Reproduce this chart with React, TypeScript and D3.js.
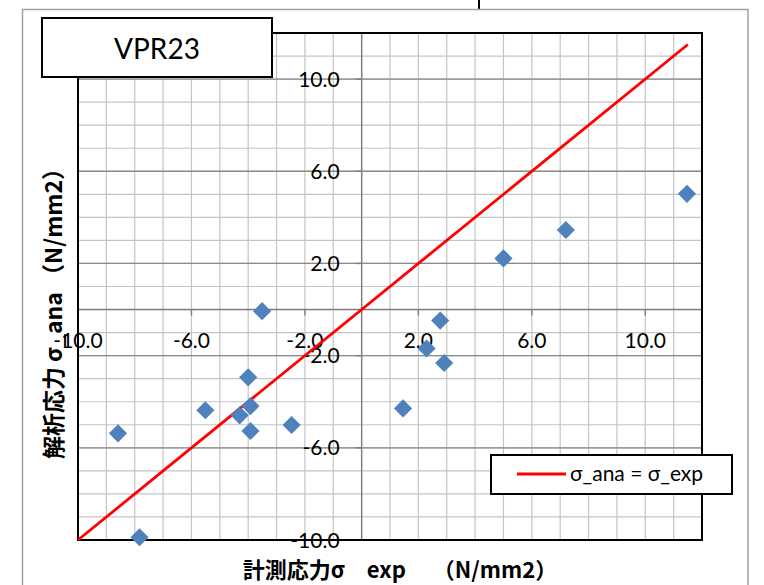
import React from "react";
import * as d3 from "d3";

const title = "VPR23";
const xTitle = "計測応力σ　exp　 （N/mm2）";
const yTitle = "解析応力 σ_ana （N/mm2）";
const legendLabel = "σ_ana = σ_exp";

const expValues = [-8.59, -7.83, -5.51, -4.3, -4.0, -3.92, -3.92, -3.51, -2.47, 1.46, 2.29, 2.77, 2.91, 5.0, 7.2, 11.47];
const anaValues = [-5.37, -9.88, -4.37, -4.59, -2.94, -4.19, -5.27, -0.07, -5.01, -4.29, -1.69, -0.48, -2.32, 2.22, 3.45, 5.02];
const refLine = [-10, 11.5];
const majorTicks = [-10, -6, -2, 2, 6, 10];
const minorTicks = d3.range(-10, 13, 1);
const domain = [-10, 12];

export default function App() {
  const W = 764, H = 585;
  const x = d3.scaleLinear().domain(domain).range([78, 702]);
  const y = d3.scaleLinear().domain(domain).range([540, 33]);
  const diamond = d3.symbol(d3.symbolSquare, 165)();
  const line = d3.line<number>().x((d) => x(d)).y((d) => y(d));
  const latin = "Lato, 'Open Sans', sans-serif";
  const cjk = "'Noto Sans CJK JP', sans-serif";

  return (
    <svg width={W} height={H} style={{ position: "absolute", left: 0, top: 0, background: "#fff" }}>
      <rect x={0} y={0} width={W} height={H} fill="#fff" />
      {/* stray connector at top */}
      <line x1={479} y1={0} x2={479} y2={9} stroke="#000" strokeWidth={2} />
      {/* outer chart border */}
      <rect x={22.5} y={9.5} width={725.5} height={600} fill="#fff" stroke="#A0A0A0" strokeWidth={1.5} />

      {/* minor gridlines */}
      {minorTicks.map((t) => (
        <line key={"vx" + t} x1={x(t)} x2={x(t)} y1={y(domain[0])} y2={y(domain[1])} stroke="#C4C4C4" strokeWidth={1.2} />
      ))}
      {minorTicks.map((t) => (
        <line key={"hy" + t} x1={x(domain[0])} x2={x(domain[1])} y1={y(t)} y2={y(t)} stroke="#C4C4C4" strokeWidth={1.2} />
      ))}
      {/* major horizontal gridlines */}
      {majorTicks.map((t) => (
        <line key={"mh" + t} x1={x(domain[0])} x2={x(domain[1])} y1={y(t)} y2={y(t)} stroke="#8A8A8A" strokeWidth={1.3} />
      ))}

      {/* axes through zero */}
      <line x1={x(0)} x2={x(0)} y1={y(domain[0])} y2={y(domain[1])} stroke="#7F7F7F" strokeWidth={1.4} />
      <line x1={x(domain[0])} x2={x(domain[1])} y1={y(0)} y2={y(0)} stroke="#7F7F7F" strokeWidth={1.4} />
      {majorTicks.map((t) => (
        <line key={"xt" + t} x1={x(t)} x2={x(t)} y1={y(0)} y2={y(0) + 6} stroke="#7F7F7F" strokeWidth={1.4} />
      ))}
      {majorTicks.map((t) => (
        <line key={"yt" + t} x1={x(0) - 6} x2={x(0)} y1={y(t)} y2={y(t)} stroke="#7F7F7F" strokeWidth={1.4} />
      ))}

      {/* plot area border */}
      <rect x={x(domain[0])} y={y(domain[1])} width={x(domain[1]) - x(domain[0])} height={y(domain[0]) - y(domain[1])} fill="none" stroke="#000" strokeWidth={2} />

      {/* tick labels */}
      {majorTicks.map((t) => (
        <text key={"xl" + t} x={x(t)} y={y(0) + 38} textAnchor="middle" fontFamily={latin} fontSize={21} fill="#000">
          {t.toFixed(1)}
        </text>
      ))}
      {majorTicks.map((t) => (
        <text key={"yl" + t} x={x(0) - 22} y={y(t)} dy="0.36em" textAnchor="end" fontFamily={latin} fontSize={21} fill="#000">
          {t.toFixed(1)}
        </text>
      ))}

      {/* reference line */}
      <path d={line(refLine) || ""} stroke="#FF0000" strokeWidth={2.8} fill="none" />

      {/* points */}
      {expValues.map((v, i) => (
        <path key={"p" + i} d={diamond || ""} transform={`translate(${x(v)},${y(anaValues[i])}) rotate(45)`} fill="#4F81BD" />
      ))}

      {/* title box */}
      <rect x={42} y={18} width={230} height={59} fill="#fff" stroke="#000" strokeWidth={2} />
      <text x={157} y={59} textAnchor="middle" fontFamily={latin} fontSize={28} fill="#000">{title}</text>

      {/* legend */}
      <rect x={491} y={455} width={241} height={39} fill="#fff" stroke="#000" strokeWidth={2} />
      <line x1={517} x2={566} y1={474} y2={474} stroke="#FF0000" strokeWidth={3} />
      <text x={570} y={481} fontFamily={latin} fontSize={21} fill="#000">{legendLabel}</text>

      {/* axis titles */}
      <text x={400} y={578} textAnchor="middle" fontFamily={cjk} fontWeight="bold" fontSize={22} fill="#000">{xTitle}</text>
      <text transform={`translate(62,308) rotate(-90)`} textAnchor="middle" fontFamily={cjk} fontWeight="bold" fontSize={23} fill="#000">{yTitle}</text>
    </svg>
  );
}
